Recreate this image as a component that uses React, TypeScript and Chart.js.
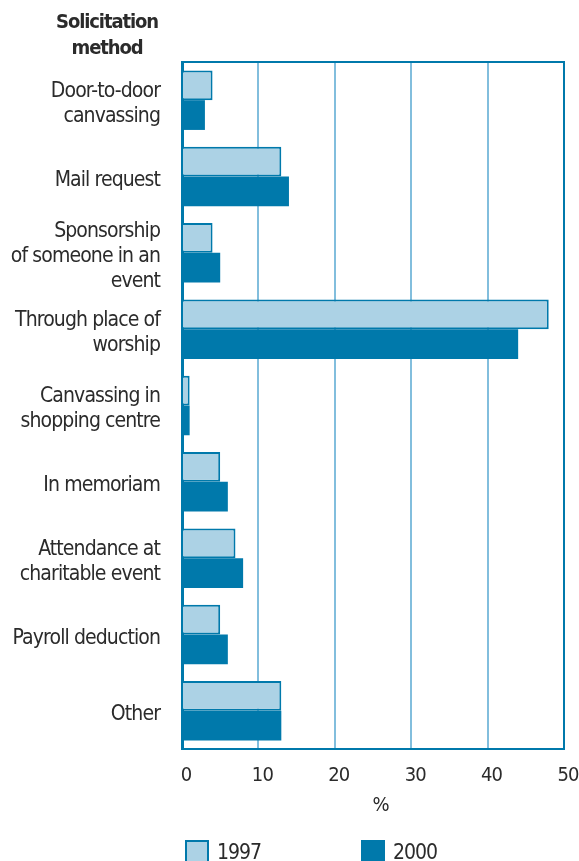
import React, { useEffect, useRef } from "react";
import { Chart, registerables } from "chart.js";

Chart.register(...registerables);

// ---- Data ----
const categories: string[][] = [
  ["Door-to-door", "canvassing"],
  ["Mail request"],
  ["Sponsorship", "of someone in an", "event"],
  ["Through place of", "worship"],
  ["Canvassing in", "shopping centre"],
  ["In memoriam"],
  ["Attendance at", "charitable event"],
  ["Payroll deduction"],
  ["Other"],
];
const values1997: number[] = [4, 13, 4, 48, 1, 5, 7, 5, 13];
const values2000: number[] = [3, 14, 5, 44, 1, 6, 8, 6, 13];
const seriesLabels: string[] = ["1997", "2000"];
const xTicks: number[] = [0, 10, 20, 30, 40, 50];
const axisTitleLines: string[] = ["Solicitation", "method"];
const unitLabel = "%";

// ---- Styles ----
const DARK = "#0079ab";
const LIGHT = "#acd2e5";
const GRID = "#82bedd";
const TEXT = "#2b2b2b";
const FONT = "'DejaVu Sans Condensed', 'Liberation Sans Narrow', sans-serif";

const tightText = {
  id: "tightText",
  beforeDraw(chart: any) {
    (chart.ctx as any).letterSpacing = "-0.9px";
  },
};

const decorations = {
  id: "decorations",
  afterDraw(chart: any) {
    const { ctx, chartArea } = chart;
    const { left, right, top, bottom } = chartArea;
    ctx.save();
    // top frame line
    ctx.strokeStyle = DARK;
    ctx.lineWidth = 2;
    ctx.beginPath();
    ctx.moveTo(left, top);
    ctx.lineTo(right + 1, top);
    ctx.stroke();

    // category axis title
    ctx.fillStyle = TEXT;
    ctx.font = `bold 20px ${FONT}`;
    (ctx as any).letterSpacing = "-1.1px";
    ctx.textAlign = "center";
    ctx.textBaseline = "alphabetic";
    ctx.fillText(axisTitleLines[0], 107, 28);
    ctx.fillText(axisTitleLines[1], 107, 54);

    // unit label
    (ctx as any).letterSpacing = "0px";
    ctx.font = `20px ${FONT}`;
    ctx.textBaseline = "middle";
    ctx.fillText(unitLabel, (left + right) / 2 + 8, bottom + 57);

    // legend
    (ctx as any).letterSpacing = "-1px";
    const ds = chart.data.datasets;
    const offsets = [3, 179];
    ds.forEach((d: any, i: number) => {
      const bx = left + offsets[i];
      const by = bottom + 91;
      ctx.fillStyle = d.backgroundColor;
      ctx.fillRect(bx, by, 24, 24);
      if (d.borderWidth) {
        ctx.strokeStyle = DARK;
        ctx.lineWidth = 2;
        ctx.strokeRect(bx + 1, by + 1, 22, 22);
      }
      ctx.fillStyle = TEXT;
      ctx.font = `21px ${FONT}`;
      ctx.textAlign = "left";
      ctx.textBaseline = "alphabetic";
      ctx.fillText(seriesLabels[i], bx + 32, by + 19);
    });
    ctx.restore();
  },
};

export default function App() {
  const ref = useRef<HTMLCanvasElement | null>(null);

  useEffect(() => {
    if (!ref.current) return;
    const chart = new Chart(ref.current, {
      type: "bar",
      data: {
        labels: categories,
        datasets: [
          {
            label: seriesLabels[0],
            data: values1997,
            backgroundColor: LIGHT,
            borderColor: DARK,
            borderWidth: 2,
            borderSkipped: "start",
          },
          {
            label: seriesLabels[1],
            data: values2000,
            backgroundColor: DARK,
            borderWidth: 0,
          },
        ],
      },
      options: {
        indexAxis: "y",
        responsive: false,
        animation: false,
        events: [],
        layout: { padding: { top: 62, right: 15, left: 0, bottom: 0 } },
        datasets: {
          bar: { categoryPercentage: 0.78, barPercentage: 1 },
        },
        plugins: {
          legend: { display: false },
          tooltip: { enabled: false },
        },
        scales: {
          x: {
            type: "linear",
            min: 0,
            max: 50,
            afterBuildTicks: (s: any) => {
              s.ticks = xTicks.map((v) => ({ value: v }));
            },
            afterFit: (s: any) => {
              s.height = 112;
              s.paddingLeft = 0;
              s.paddingRight = 0;
            },
            ticks: {
              color: TEXT,
              font: { family: FONT, size: 20 },
              padding: 15,
              labelOffset: 4,
              maxRotation: 0,
            },
            grid: {
              drawTicks: false,
              lineWidth: 2,
              color: (c: any) =>
                c.tick && c.tick.value === 0
                  ? "rgba(0,0,0,0)"
                  : c.tick && c.tick.value === 50
                  ? DARK
                  : GRID,
            },
            border: { color: DARK, width: 2 },
          },
          y: {
            z: 1,
            afterFit: (s: any) => {
              s.width = 182;
              s.paddingTop = 0;
              s.paddingBottom = 0;
            },
            ticks: {
              color: TEXT,
              autoSkip: false,
              font: { family: FONT, size: 21, lineHeight: 1.19 },
              padding: 22,
              labelOffset: 4,
            },
            grid: { display: false, drawTicks: false },
            border: { color: DARK, width: 3 },
          },
        },
      },
      plugins: [tightText, decorations],
    } as any);
    return () => chart.destroy();
  }, []);

  return (
    <div style={{ position: "absolute", left: 0, top: 0, width: 579, height: 861, background: "#fff" }}>
      <canvas ref={ref} width={579} height={861} style={{ display: "block" }} />
    </div>
  );
}
